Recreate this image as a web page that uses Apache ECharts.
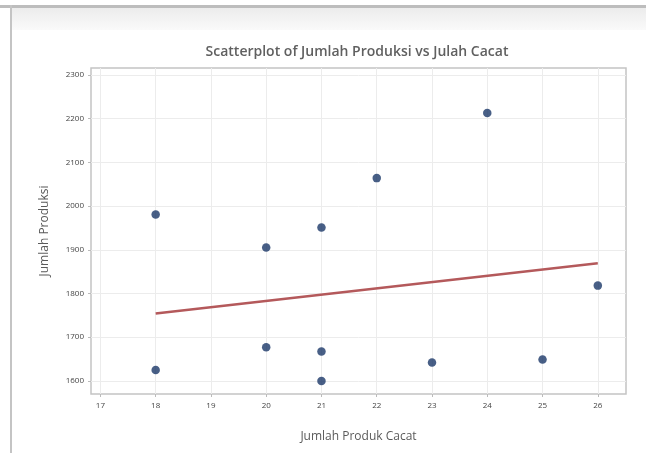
<!DOCTYPE html>
<html>
<head>
<meta charset="utf-8">
<style>
html,body{margin:0;padding:0;background:#fff;}
#chart{width:646px;height:453px;}
</style>
<script src="https://cdn.jsdelivr.net/npm/echarts@6/dist/echarts.min.js"></script>
</head>
<body>
<div id="chart"></div>
<script>
const produkCacat = [18, 18, 20, 20, 21, 21, 21, 22, 23, 24, 25, 26];
const jumlahProduksi = [1981, 1625, 1905, 1677, 1951, 1667, 1600, 2064, 1642, 2213, 1649, 1818];
const fitX = [18, 26];
const fitY = [1754, 1869];
const xTicks = [17, 18, 19, 20, 21, 22, 23, 24, 25, 26];
const yTicks = [1600, 1700, 1800, 1900, 2000, 2100, 2200, 2300];

const chart = echarts.init(document.getElementById('chart'), null, {renderer: 'canvas'});
const txt = '#5a5a5a';
chart.setOption({
  animation: false,
  backgroundColor: '#ffffff',
  title: {
    text: 'Scatterplot of Jumlah Produksi vs Julah Cacat',
    left: 352, top: 40, textAlign: 'center',
    textStyle: {fontFamily: 'Open Sans', fontSize: 14, fontWeight: 600, color: '#606060'}
  },
  graphic: [
    {type: 'rect', shape: {x: 11, y: 8, width: 635, height: 22},
     style: {fill: new echarts.graphic.LinearGradient(0, 0, 0, 1, [{offset: 0, color: '#ececec'}, {offset: 1, color: '#fafafa'}])}, silent: true},
    {type: 'rect', shape: {x: 0, y: 5, width: 646, height: 3}, style: {fill: '#bdbdbd'}, silent: true},
    {type: 'rect', shape: {x: 10, y: 5, width: 2, height: 448}, style: {fill: '#c4c4c4'}, silent: true}
  ],
  grid: {left: 91, top: 68, right: 20, bottom: 59, show: true, borderColor: '#c4c4c4', borderWidth: 1.5, backgroundColor: '#fff'},
  xAxis: {
    type: 'value', min: 16.83, max: 26.51,
    name: 'Jumlah Produk Cacat', nameLocation: 'middle', nameGap: 37,
    nameTextStyle: {fontFamily: 'Open Sans', fontSize: 12, color: txt},
    axisLine: {show: false},
    axisTick: {show: true, length: 3, inside: false, customValues: xTicks, lineStyle: {color: '#bbb'}},
    axisLabel: {customValues: xTicks, fontFamily: 'Open Sans', fontSize: 8, color: '#444', margin: 8},
    splitLine: {show: true, lineStyle: {color: '#ececec', width: 1}}
  },
  yAxis: {
    type: 'value', min: 1570, max: 2316,
    name: 'Jumlah Produksi', nameLocation: 'middle', nameGap: 40, nameRotate: 90,
    nameTextStyle: {fontFamily: 'Open Sans', fontSize: 12, color: txt},
    axisLine: {show: false},
    axisTick: {show: true, length: 3, customValues: yTicks, lineStyle: {color: '#bbb'}},
    axisLabel: {customValues: yTicks, formatter: v => String(v), fontFamily: 'Open Sans', fontSize: 8, color: '#444', margin: 7},
    splitLine: {show: true, lineStyle: {color: '#ececec', width: 1}}
  },
  series: [
    {
      type: 'line', data: fitX.map((x, i) => [x, fitY[i]]),
      showSymbol: false, symbol: 'none',
      lineStyle: {color: '#b4595b', width: 2.5}, z: 2
    },
    {
      type: 'scatter', data: produkCacat.map((x, i) => [x, jumlahProduksi[i]]),
      symbol: 'circle', symbolSize: 8.5,
      itemStyle: {color: '#1a3768'}, z: 3
    }
  ]
});
</script>
</body>
</html>
